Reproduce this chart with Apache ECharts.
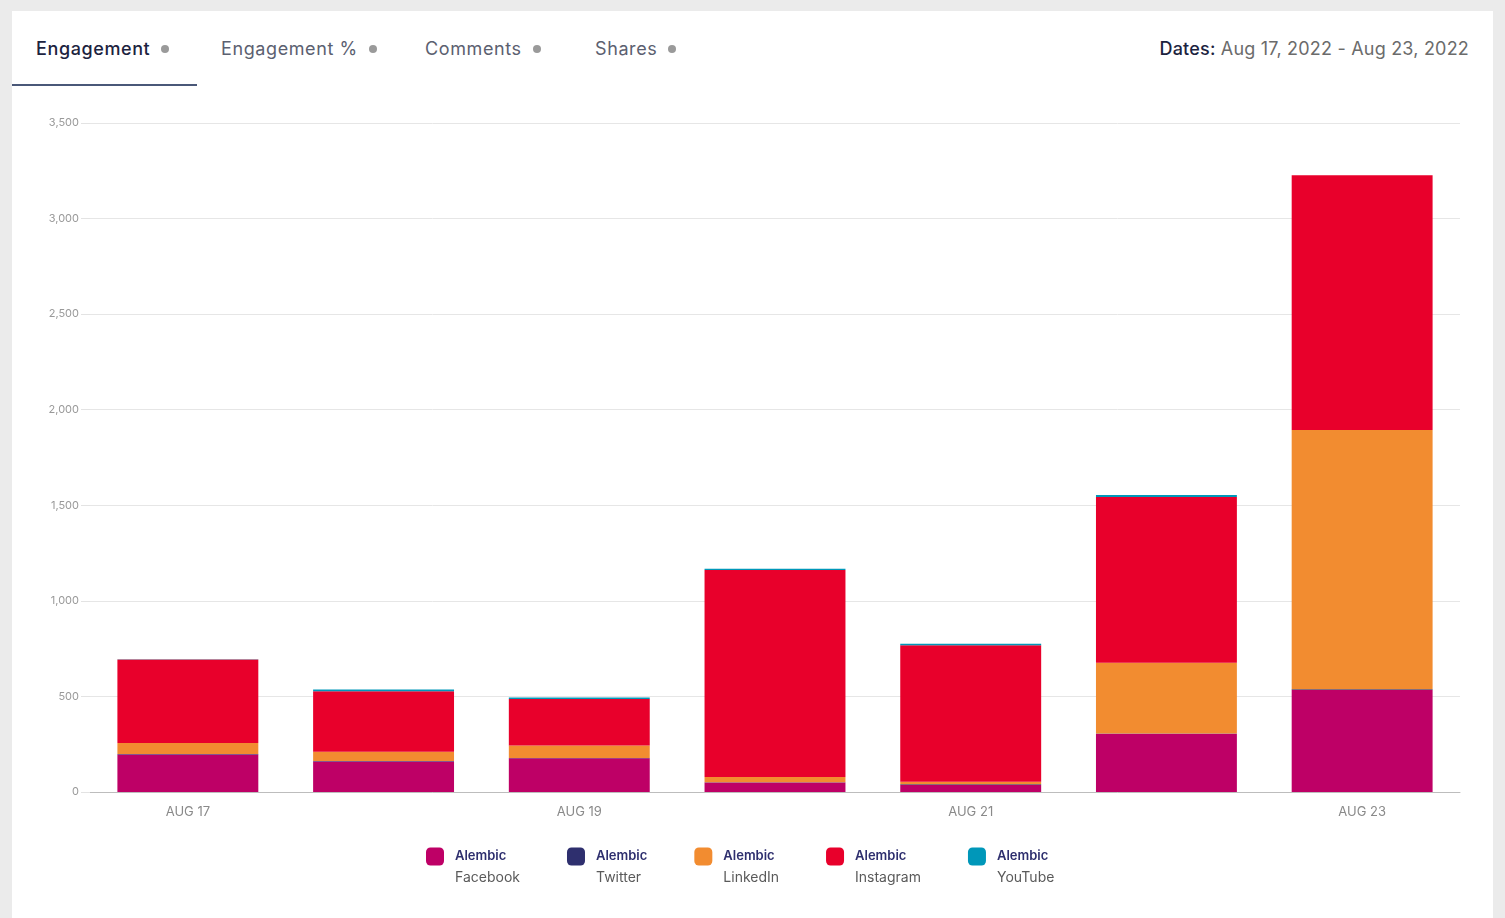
<!DOCTYPE html>
<html>
<head>
<meta charset="utf-8">
<script src="https://cdn.jsdelivr.net/npm/echarts@6/dist/echarts.min.js"></script>
<style>
  html, body { margin: 0; padding: 0; width: 1505px; height: 918px; background: #ebebeb; overflow: hidden; }
  .card { position: absolute; left: 12px; top: 11px; width: 1481px; height: 920px; background: #fff; }
  .tabs { position: absolute; left: 0; top: 0; width: 100%; height: 76px; font-family: Inter, "Noto Sans", sans-serif; }
  .tab { position: absolute; top: 27px; font-size: 18px; color: #5b6070; white-space: nowrap; letter-spacing: 0.6px; }
  .tab.active { color: #1c2340; font-weight: 500; }
  .dot { display: inline-block; width: 8px; height: 8px; border-radius: 50%; background: #9a9a9a; margin-left: 11px; vertical-align: 2px; }
  .underline { position: absolute; left: 0; top: 73px; width: 185px; height: 2px; background: #4a5878; }
  .dates { position: absolute; right: 24px; top: 27px; font-size: 18px; color: #6b6b6b; white-space: nowrap; font-family: Inter, "Noto Sans", sans-serif; letter-spacing: 0.2px; }
  .dates b { color: #1c2340; font-weight: 500; }
  #chart { position: absolute; left: 0; top: 0; width: 1505px; height: 918px; }
</style>
</head>
<body>
<div class="card">
  <div class="tabs">
    <div class="tab active" style="left:24px">Engagement<span class="dot"></span></div>
    <div class="tab" style="left:209px">Engagement %<span class="dot"></span></div>
    <div class="tab" style="left:413px">Comments<span class="dot"></span></div>
    <div class="tab" style="left:583px">Shares<span class="dot"></span></div>
    <div class="underline"></div>
    <div class="dates"><b>Dates:</b> Aug 17, 2022 - Aug 23, 2022</div>
  </div>
</div>
<div id="chart"></div>
<script>
const dates = ['AUG 17', 'AUG 18', 'AUG 19', 'AUG 20', 'AUG 21', 'AUG 22', 'AUG 23'];

const facebook  = [196, 160, 176, 50, 37, 305, 534];
const twitter   = [3, 2, 2, 1, 3, 1, 4];
const linkedin  = [58, 48, 65, 28, 13, 370, 1356];
const instagram = [436, 317, 244, 1083, 715, 868, 1332];
const youtube   = [2, 9, 8, 6, 7, 10, 1];

const yTicks = { min: 0, max: 3500, interval: 500 };

const chart = echarts.init(document.getElementById('chart'));

const mkSeries = (name, data, color) => ({
  name: name,
  type: 'bar',
  stack: 'total',
  barCategoryGap: '28%',
  data: data,
  itemStyle: { color: color },
  emphasis: { disabled: true }
});

const option = {
  animation: false,
  textStyle: { fontFamily: 'Inter, "Noto Sans", sans-serif' },
  grid: { left: 90, right: 45, top: 123, bottom: 126 },
  legend: {
    top: 825,
    left: 426,
    padding: 0,
    itemWidth: 18,
    itemHeight: 18,
    itemGap: 47,
    icon: 'roundRect',
    selectedMode: false,
    // blank first line keeps the swatch level with "Alembic"
    formatter: (name) => '{s| }\n{a|Alembic}\n{b|' + name.replace('Alembic ', '') + '}',
    textStyle: {
      lineHeight: 21,
      rich: {
        s: { fontSize: 13, lineHeight: 21, padding: [0, 0, 0, 6] },
        a: { fontSize: 13, fontWeight: 600, color: '#2e2f6e', lineHeight: 21, padding: [0, 0, 0, 6] },
        b: { fontSize: 14, color: '#5a5a5a', lineHeight: 21, padding: [0, 0, 0, 6] }
      }
    }
  },
  xAxis: {
    type: 'category',
    data: dates,
    axisTick: { show: false },
    axisLine: { lineStyle: { color: '#bdbdbd' } },
    axisLabel: { interval: 1, color: '#8a8a8a', fontSize: 13, margin: 14 }
  },
  yAxis: {
    type: 'value',
    min: yTicks.min,
    max: yTicks.max,
    interval: yTicks.interval,
    axisLine: { show: false },
    axisTick: { show: true, length: 9, lineStyle: { color: '#e3e3e3' } },
    splitLine: { lineStyle: { color: '#e6e6e6' } },
    axisLabel: { color: '#999', fontSize: 11, margin: 11 }
  },
  series: [
    mkSeries('Alembic Facebook', facebook, '#be0066'),
    mkSeries('Alembic Twitter', twitter, '#2e2f6e'),
    mkSeries('Alembic LinkedIn', linkedin, '#f28c30'),
    mkSeries('Alembic Instagram', instagram, '#e8002b'),
    mkSeries('Alembic YouTube', youtube, '#0097b9')
  ]
};

chart.setOption(option);
</script>
</body>
</html>
